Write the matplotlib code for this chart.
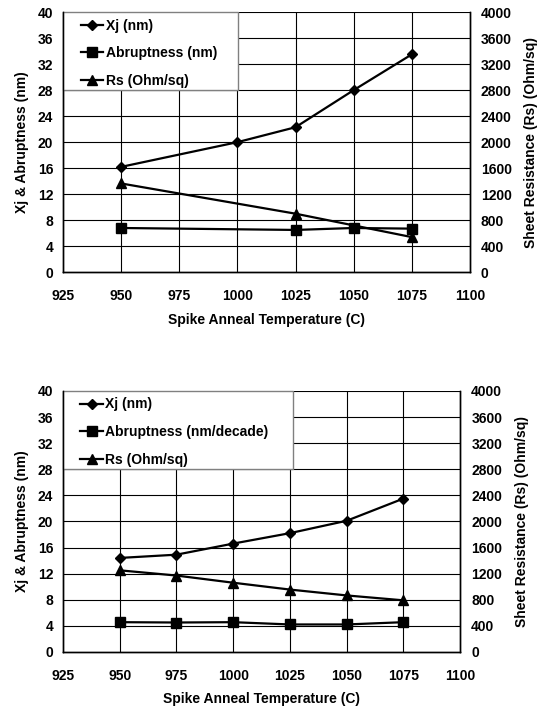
import matplotlib
matplotlib.use('Agg')
import matplotlib.pyplot as plt
from matplotlib.lines import Line2D
from matplotlib.patches import Rectangle

plt.rcParams['font.family'] = ['Liberation Sans', 'DejaVu Sans']
plt.rcParams['font.weight'] = 'bold'
plt.rcParams['axes.labelweight'] = 'bold'
plt.rcParams['font.size'] = 10

# top chart data
top_xj_t = [950, 1000, 1025, 1050, 1075]
top_xj = [16.2, 20.0, 22.3, 28.0, 33.5]
top_abr_t = [950, 1025, 1050, 1075]
top_abr = [6.8, 6.5, 6.8, 6.7]
top_rs_t = [950, 1025, 1075]
top_rs = [1365, 900, 540]
top_labels = ['Xj (nm)', 'Abruptness (nm)', 'Rs (Ohm/sq)']

# bottom chart data
bot_t = [950, 975, 1000, 1025, 1050, 1075]
bot_xj = [14.4, 14.9, 16.6, 18.2, 20.1, 23.5]
bot_abr = [4.55, 4.5, 4.55, 4.2, 4.2, 4.55]
bot_rs = [1250, 1170, 1060, 955, 865, 790]
bot_labels = ['Xj (nm)', 'Abruptness (nm/decade)', 'Rs (Ohm/sq)']

xticks = [925, 950, 975, 1000, 1025, 1050, 1075, 1100]
yticks_left = list(range(0, 41, 4))
yticks_right = list(range(0, 4001, 400))


def draw(rect, xj_t, xj, abr_t, abr, rs_t, rs, labels, box_w, xlabelpad):
    ax = fig.add_axes(rect)
    ax2 = ax.twinx()
    ax.set_xlim(925, 1100)
    ax.set_ylim(0, 40)
    ax2.set_ylim(0, 4000)
    ax.set_xticks(xticks)
    ax.set_yticks(yticks_left)
    ax2.set_yticks(yticks_right)
    ax.tick_params(axis='y', length=0, pad=7, labelsize=10)
    ax.tick_params(axis='x', length=0, pad=12, labelsize=10)
    ax2.tick_params(axis='y', length=0, pad=8, labelsize=10)
    for a in (ax, ax2):
        for s in a.spines.values():
            s.set_linewidth(1.0)
            s.set_color('black')
        a.spines['top'].set_visible(False)
    # grid
    for v in xticks[1:-1]:
        ax.axvline(v, color='black', lw=0.8, zorder=0)
    for h in yticks_left[1:]:
        ax.axhline(h, color='black', lw=0.8, zorder=0)
    ax.set_zorder(ax2.get_zorder() + 1)
    ax.patch.set_visible(False)

    # legend box (white, grey edge) over the grid
    ax.add_patch(Rectangle((0, 0.7), box_w, 0.3, transform=ax.transAxes,
                           facecolor='white', edgecolor='#808080', lw=1.0,
                           zorder=1, clip_on=False))

    ax.plot(xj_t, xj, color='black', lw=1.6, marker='D', ms=5, zorder=3)
    ax.plot(abr_t, abr, color='black', lw=1.6, marker='s', ms=7, zorder=3)
    ax2.plot(rs_t, rs, color='black', lw=1.6, marker='^', ms=7)

    ax.set_xlabel('Spike Anneal Temperature (C)', labelpad=xlabelpad, fontsize=10)
    ax.set_ylabel('Xj & Abruptness (nm)', labelpad=6, fontsize=10)
    ax2.set_ylabel('Sheet Resistance (Rs) (Ohm/sq)', labelpad=9, fontsize=10)

    handles = [Line2D([0], [0], color='black', lw=1.6, marker='D', ms=5),
               Line2D([0], [0], color='black', lw=1.6, marker='s', ms=7),
               Line2D([0], [0], color='black', lw=1.6, marker='^', ms=7)]
    leg = ax.legend(handles, labels, loc='upper left', bbox_to_anchor=(0.044, 0.975),
                    borderaxespad=0, borderpad=0, frameon=False,
                    handlelength=1.6, handletextpad=0.2, labelspacing=0.98,
                    fontsize=10)
    leg.set_zorder(5)
    return ax


fig = plt.figure(figsize=(5.41, 7.07), dpi=100)
draw([0.1165, 0.615, 0.752, 0.3678], top_xj_t, top_xj, top_abr_t, top_abr,
     top_rs_t, top_rs, top_labels, 0.43, 7)
draw([0.1165, 0.078, 0.734, 0.369], bot_t, bot_xj, bot_t, bot_abr,
     bot_t, bot_rs, bot_labels, 0.58, 7)

fig.savefig('out.png', dpi=100)
